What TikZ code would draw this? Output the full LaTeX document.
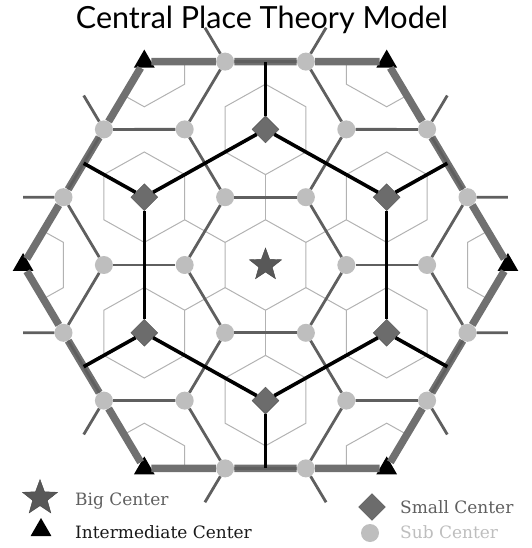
\documentclass[tikz,border=0pt]{standalone}
\usepackage{fontspec}
\newfontfamily\titlefont{Lato}
\newfontfamily\legendfont{DejaVu Serif}
\usetikzlibrary{shapes.geometric}
\definecolor{cpbound}{RGB}{112,112,112}
\definecolor{cpdark}{RGB}{95,95,95}
\definecolor{cpthin}{RGB}{178,178,178}
\definecolor{cpstar}{RGB}{88,88,88}
\definecolor{cpsmall}{RGB}{108,108,108}
\definecolor{cpsub}{RGB}{190,190,190}
\definecolor{cplabel}{RGB}{95,95,95}

\begin{document}
\begin{tikzpicture}[
  x=80.8pt, y=80.8pt,
  bigc/.style={star, star points=5, star point ratio=2.4,
    fill=cpstar, draw=cpstar!80!black, inner sep=0pt, minimum size=34pt},
  midc/.style={regular polygon, regular polygon sides=3,
    fill=black, inner sep=0pt, minimum size=24pt},
  smallc/.style={diamond, fill=cpsmall, draw=cpsmall!80!black,
    inner sep=0pt, minimum width=27pt, minimum height=27pt},
  subc/.style={circle, fill=cpsub, inner sep=0pt, minimum size=18pt},
  bound/.style={line width=7.5pt, draw=cpbound},
  blackln/.style={line width=3.6pt, draw=black},
  darkln/.style={line width=2.8pt, draw=cpdark},
  thinln/.style={line width=1pt, draw=cpthin},
  legtext/.style={font=\legendfont\fontsize{17}{19}\selectfont,
    anchor=base west, inner sep=0pt}
]
\useasboundingbox (-265.5pt,-283pt) rectangle (265.5pt,265pt);

\node[font=\titlefont\fontsize{30.5}{33}\selectfont, anchor=base, inner sep=0pt]
  (title) at (-3.5pt,236.5pt) {Central Place Theory Model};

\begin{scope}[yscale=.969]
% market areas
\begin{scope}
  \clip (0:3) -- (60:3) -- (120:3) -- (180:3) -- (240:3) -- (300:3) -- cycle;
  \foreach \cx/\cy in {0/0, 0/1.732, 1.5/.866, 1.5/-.866, 0/-1.732, -1.5/-.866, -1.5/.866,
                       3/0, 1.5/2.598, -1.5/2.598, -3/0, -1.5/-2.598, 1.5/-2.598}
    \draw[thinln] ({\cx+.5},{\cy+.2887}) -- ({\cx},{\cy+.5774}) -- ({\cx-.5},{\cy+.2887})
      -- ({\cx-.5},{\cy-.2887}) -- ({\cx},{\cy-.5774}) -- ({\cx+.5},{\cy-.2887}) -- cycle;
\end{scope}
\foreach \k in {0,...,5}
  \draw[thinln] (30+60*\k:.5774) -- (30+60*\k:1.1547);

% centers
\node[bigc] (big) at (0,0) {};
\foreach \k in {0,...,5}{
  \node[smallc] (d\k) at (30+60*\k:1.732) {};
  \node[midc] (t\k) at (60*\k:3) {};
  \node[subc] (u\k) at (60*\k:1) {};
  \node[subc] (v\k) at (60*\k:2) {};
  \node[subc] (wa\k) at (60*\k+19.107:2.6458) {};
  \node[subc] (wb\k) at (60*\k-19.107:2.6458) {};
  \coordinate (m\k) at (30+60*\k:2.598);
  \coordinate (sa\k) at (60*\k+16.102:3.1225);
  \coordinate (sb\k) at (60*\k-16.102:3.1225);
}

% outer boundary
\foreach \k in {0,...,5}{
  \pgfmathtruncatemacro\n{mod(\k+1,6)}
  \draw[bound] (t\k) -- (wa\k);
  \draw[bound] (wa\k) -- (wb\n);
  \draw[bound] (wb\n) -- (t\n);
}

% sub center links
\foreach \k in {0,...,5}{
  \pgfmathtruncatemacro\n{mod(\k+1,6)}
  \draw[darkln] (u\k) -- (u\n);
  \draw[darkln] (u\k) -- (v\k);
  \draw[darkln] (v\k) -- (wa\k);
  \draw[darkln] (v\k) -- (wb\k);
  \draw[darkln] (wa\k) -- (wb\n);
  \draw[darkln] (wa\k) -- (sa\k);
  \draw[darkln] (wb\k) -- (sb\k);
}

% small center links
\foreach \k in {0,...,5}{
  \pgfmathtruncatemacro\n{mod(\k+1,6)}
  \draw[blackln] (d\k) -- (d\n);
  \draw[blackln] (d\k) -- (m\k);
}
\end{scope}

% legend
\node[bigc, minimum size=37pt] (lgbig) at (-225.5pt,-233pt) {};
\node[legtext, text=cplabel] (lgbigtxt) at (-190.5pt,-240pt) {Big Center};
\node[midc] (lgmid) at (-224.5pt,-265pt) {};
\node[legtext, text=black!90] (lgmidtxt) at (-190.5pt,-273pt) {Intermediate Center};
\node[smallc] (lgsmall) at (106.5pt,-242pt) {};
\node[legtext, text=cplabel] (lgsmalltxt) at (134.5pt,-248pt) {Small Center};
\node[subc] (lgsub) at (104.5pt,-268pt) {};
\node[legtext, text=cpsub] (lgsubtxt) at (134.5pt,-273pt) {Sub Center};
\end{tikzpicture}
\end{document}
